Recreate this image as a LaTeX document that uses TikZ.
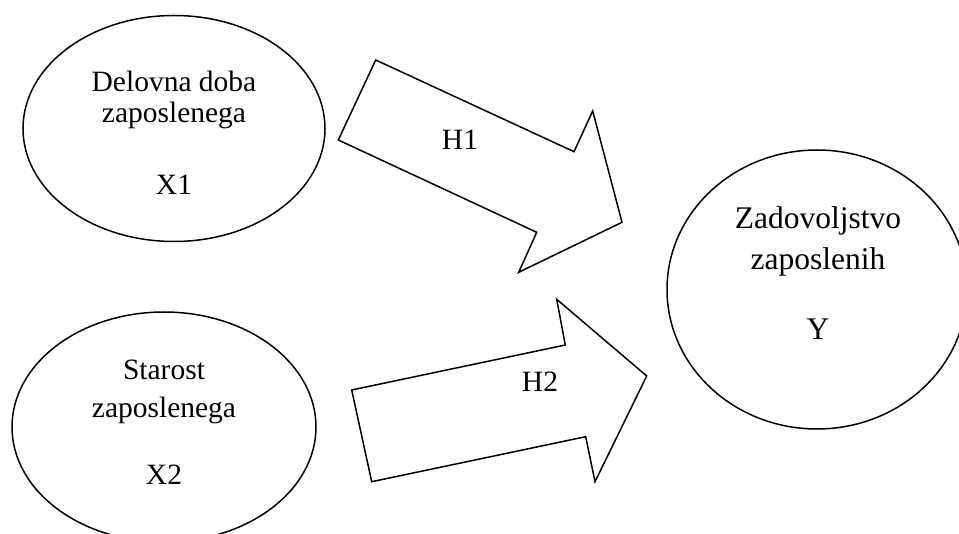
\documentclass[tikz,border=0pt]{standalone}
\usepackage{fontspec}
\setmainfont{Liberation Serif}
\usetikzlibrary{shapes.geometric}
\begin{document}
\begin{tikzpicture}[x=1pt,y=-1pt,
  oval/.style={draw, ellipse, line width=1.5pt, inner sep=0pt},
  blockarrow/.style={draw, line width=1.5pt, line join=miter},
  lbl/.style={anchor=base, inner sep=0pt, font=\fontsize{29.5}{34}\selectfont},
  biglbl/.style={lbl, font=\fontsize{31.5}{36}\selectfont}]
\useasboundingbox (0,0) rectangle (959,534);
\clip (0,0) rectangle (959,534);

% variables
\node[oval, minimum width=302pt, minimum height=226pt] (x1) at (174,128.5) {};
\node[oval, minimum width=304pt, minimum height=230pt] (x2) at (164,427) {};
\node[oval, minimum width=300pt, minimum height=279pt] (y) at (817,289.5) {};

\node[lbl] (x1a) at (174,91.7) {Delovna doba};
\node[lbl] (x1b) at (174,122.5) {zaposlenega};
\node[lbl] (x1c) at (174,195) {X1};

\node[lbl] (x2a) at (164,380) {Starost};
\node[lbl] (x2b) at (164,418) {zaposlenega};
\node[lbl] (x2c) at (164,485) {X2};

\node[biglbl] (ya) at (818,228.3) {Zadovoljstvo};
\node[biglbl] (yb) at (818,270) {zaposlenih};
\node[biglbl] (yc) at (818,340) {Y};

% hypothesis H1 block arrow
\coordinate (a1) at (375.7,60);
\coordinate (a2) at (574,151.7);
\coordinate (a3) at (592.7,111);
\coordinate (a4) at (622,222.3);
\coordinate (a5) at (518.7,272.3);
\coordinate (a6) at (536.7,232.3);
\coordinate (a7) at (338.3,140);
\draw[blockarrow] (a1) -- (a2) -- (a3) -- (a4) -- (a5) -- (a6) -- (a7) -- cycle;
\node[lbl] (h1) at (460,150) {H1};

% hypothesis H2 block arrow
\coordinate (b1) at (351.7,390);
\coordinate (b2) at (565.3,345);
\coordinate (b3) at (556.7,299.3);
\coordinate (b4) at (646.7,376);
\coordinate (b5) at (595,481.7);
\coordinate (b6) at (585.7,436.7);
\coordinate (b7) at (371.7,481.7);
\draw[blockarrow] (b1) -- (b2) -- (b3) -- (b4) -- (b5) -- (b6) -- (b7) -- cycle;
\node[lbl] (h2) at (540,391.7) {H2};
\end{tikzpicture}
\end{document}
